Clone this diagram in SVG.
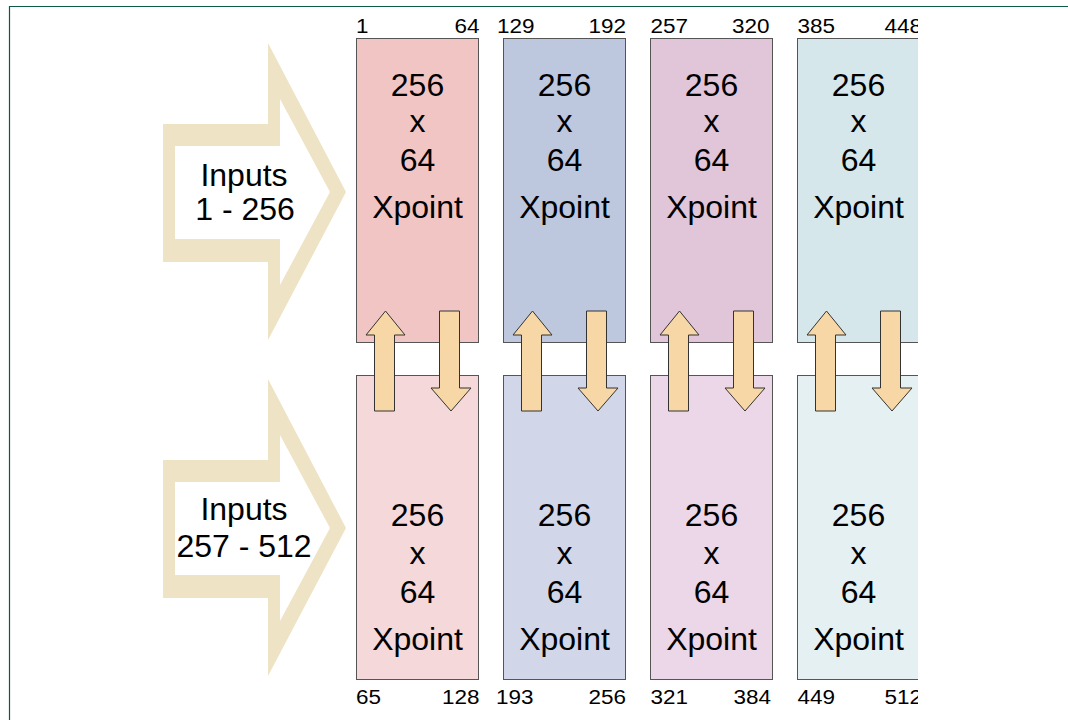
<svg xmlns="http://www.w3.org/2000/svg" width="1068" height="720" viewBox="0 0 1068 720">
  <style>
    .frame { fill: none; stroke: #0b5a48; stroke-width: 1.2; }
    .big { fill: #efe3c5; fill-rule: evenodd; }
    .big-t { font-family: "Liberation Sans", Arial, sans-serif; font-size: 32px; fill: #000; text-anchor: middle; }
    .box { stroke: #555; stroke-width: 1; }
    .bt { font-family: "Liberation Sans", Arial, sans-serif; font-size: 32px; fill: #000; text-anchor: middle; }
    .lbl { font-family: "Liberation Sans", Arial, sans-serif; font-size: 19.5px; fill: #000; }
    .end { text-anchor: end; }
    .flow { fill: #f7d7a5; stroke: #333; stroke-width: 1; stroke-linejoin: miter; }
    .c1a { fill: #f2c5c5; } .c1b { fill: #f4d8da; }
    .c2a { fill: #bdc7de; } .c2b { fill: #d1d7e9; }
    .c3a { fill: #e1c5d9; } .c3b { fill: #ebd7e7; }
    .c4a { fill: #d5e7eb; } .c4b { fill: #e4f0f2; }
  </style>
  <defs>
    <clipPath id="edge"><rect x="0" y="0" width="918" height="720"/></clipPath>
    <!-- hollow block arrow: outer outline minus inner outline -->
    <path id="bigArrow" d="M163,124 H268 V43 L346,192 L268,340 V262 H163 Z M175,146 V239 H280 V285 L330,192 L280,99 V146 Z"/>
    <!-- paired up/down transfer arrows, relative to the column's left edge -->
    <g id="pair">
      <polygon class="flow" points="17.5,411 17.5,335 9,335 28.5,311 48,335 37.5,335 37.5,411"/>
      <polygon class="flow" points="82.5,311 102.5,311 102.5,388 114,388 94,411 74,388 82.5,388"/>
    </g>
  </defs>

  <!-- page frame -->
  <path class="frame" d="M9.5,720 V6.5 H1068"/>

  <!-- input arrows -->
  <g id="inputs-1-256">
    <use href="#bigArrow" class="big"/>
    <text class="big-t" x="244" y="186">Inputs</text>
    <text class="big-t" x="245" y="220">1 - 256</text>
  </g>
  <g id="inputs-257-512">
    <use href="#bigArrow" class="big" transform="translate(0,336)"/>
    <text class="big-t" x="244" y="520">Inputs</text>
    <text class="big-t" x="244" y="557">257 - 512</text>
  </g>

  <!-- column 1 -->
  <g id="xpoint-1-64">
    <rect class="box c1a" x="356.5" y="38.5" width="122" height="304"/>
    <text class="bt" x="417.5" y="96">256</text>
    <text class="bt" x="417.5" y="131.5">x</text>
    <text class="bt" x="417.5" y="171">64</text>
    <text class="bt" x="417.5" y="217.5">Xpoint</text>
    <text class="lbl" x="356" y="32.5" textLength="12.5" lengthAdjust="spacingAndGlyphs">1</text>
    <text class="lbl end" x="479.5" y="32.5" textLength="25" lengthAdjust="spacingAndGlyphs">64</text>
  </g>
  <g id="xpoint-65-128">
    <rect class="box c1b" x="356.5" y="375.5" width="122" height="304"/>
    <text class="bt" x="417.5" y="526">256</text>
    <text class="bt" x="417.5" y="564">x</text>
    <text class="bt" x="417.5" y="602.5">64</text>
    <text class="bt" x="417.5" y="649.5">Xpoint</text>
    <text class="lbl" x="356" y="703.5" textLength="25" lengthAdjust="spacingAndGlyphs">65</text>
    <text class="lbl end" x="479.5" y="703.5" textLength="37.5" lengthAdjust="spacingAndGlyphs">128</text>
  </g>

  <!-- column 2 -->
  <g id="xpoint-129-192">
    <rect class="box c2a" x="503.5" y="38.5" width="122" height="304"/>
    <text class="bt" x="564.5" y="96">256</text>
    <text class="bt" x="564.5" y="131.5">x</text>
    <text class="bt" x="564.5" y="171">64</text>
    <text class="bt" x="564.5" y="217.5">Xpoint</text>
    <text class="lbl" x="497" y="32.5" textLength="37.5" lengthAdjust="spacingAndGlyphs">129</text>
    <text class="lbl end" x="626" y="32.5" textLength="37.5" lengthAdjust="spacingAndGlyphs">192</text>
  </g>
  <g id="xpoint-193-256">
    <rect class="box c2b" x="503.5" y="375.5" width="122" height="304"/>
    <text class="bt" x="564.5" y="526">256</text>
    <text class="bt" x="564.5" y="564">x</text>
    <text class="bt" x="564.5" y="602.5">64</text>
    <text class="bt" x="564.5" y="649.5">Xpoint</text>
    <text class="lbl" x="496" y="703.5" textLength="37.5" lengthAdjust="spacingAndGlyphs">193</text>
    <text class="lbl end" x="626" y="703.5" textLength="37.5" lengthAdjust="spacingAndGlyphs">256</text>
  </g>

  <!-- column 3 -->
  <g id="xpoint-257-320">
    <rect class="box c3a" x="650.5" y="38.5" width="122" height="304"/>
    <text class="bt" x="711.5" y="96">256</text>
    <text class="bt" x="711.5" y="131.5">x</text>
    <text class="bt" x="711.5" y="171">64</text>
    <text class="bt" x="711.5" y="217.5">Xpoint</text>
    <text class="lbl" x="650.5" y="32.5" textLength="37.5" lengthAdjust="spacingAndGlyphs">257</text>
    <text class="lbl end" x="769.5" y="32.5" textLength="37.5" lengthAdjust="spacingAndGlyphs">320</text>
  </g>
  <g id="xpoint-321-384">
    <rect class="box c3b" x="650.5" y="375.5" width="122" height="304"/>
    <text class="bt" x="711.5" y="526">256</text>
    <text class="bt" x="711.5" y="564">x</text>
    <text class="bt" x="711.5" y="602.5">64</text>
    <text class="bt" x="711.5" y="649.5">Xpoint</text>
    <text class="lbl" x="650.5" y="703.5" textLength="37.5" lengthAdjust="spacingAndGlyphs">321</text>
    <text class="lbl end" x="771" y="703.5" textLength="37.5" lengthAdjust="spacingAndGlyphs">384</text>
  </g>

  <!-- column 4 (cut at the right margin) -->
  <g id="xpoint-385-448" clip-path="url(#edge)">
    <rect class="box c4a" x="797.5" y="38.5" width="122" height="304"/>
    <text class="bt" x="858.5" y="96">256</text>
    <text class="bt" x="858.5" y="131.5">x</text>
    <text class="bt" x="858.5" y="171">64</text>
    <text class="bt" x="858.5" y="217.5">Xpoint</text>
    <text class="lbl" x="797.5" y="32.5" textLength="37.5" lengthAdjust="spacingAndGlyphs">385</text>
    <text class="lbl end" x="922" y="32.5" textLength="37.5" lengthAdjust="spacingAndGlyphs">448</text>
  </g>
  <g id="xpoint-449-512" clip-path="url(#edge)">
    <rect class="box c4b" x="797.5" y="375.5" width="122" height="304"/>
    <text class="bt" x="858.5" y="526">256</text>
    <text class="bt" x="858.5" y="564">x</text>
    <text class="bt" x="858.5" y="602.5">64</text>
    <text class="bt" x="858.5" y="649.5">Xpoint</text>
    <text class="lbl" x="797.5" y="703.5" textLength="37.5" lengthAdjust="spacingAndGlyphs">449</text>
    <text class="lbl end" x="922" y="703.5" textLength="37.5" lengthAdjust="spacingAndGlyphs">512</text>
  </g>

  <!-- transfers between upper and lower crosspoints -->
  <g id="connectors">
    <use href="#pair" transform="translate(357,0)"/>
    <use href="#pair" transform="translate(504,0)"/>
    <use href="#pair" transform="translate(651,0)"/>
    <use href="#pair" transform="translate(798,0)"/>
  </g>
</svg>
